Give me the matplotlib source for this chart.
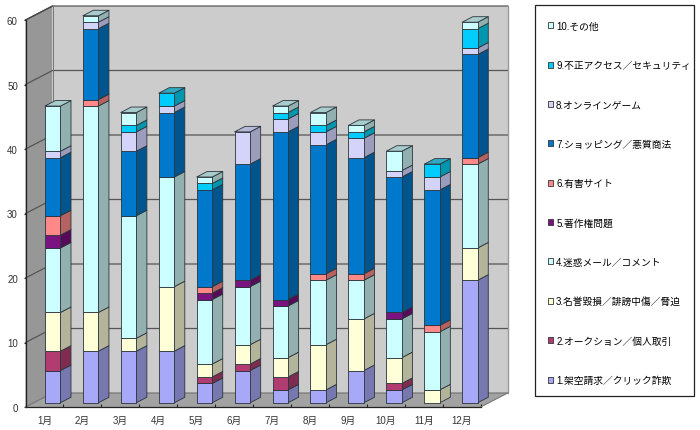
import matplotlib
matplotlib.use("Agg")
import matplotlib.pyplot as plt
from matplotlib.patches import Polygon, Patch, Rectangle

plt.rcParams['font.family'] = ['Liberation Sans', 'Noto Sans CJK JP', 'DejaVu Sans']

months = ['1月','2月','3月','4月','5月','6月','7月','8月','9月','10月','11月','12月']
series_names = ['1.架空請求／クリック詐欺','2.オークション／個人取引','3.名誉毀損／誹謗中傷／脅迫',
                '4.迷惑メール／コメント','5.著作権問題','6.有害サイト','7.ショッピング／悪質商法',
                '8.オンラインゲーム','9.不正アクセス／セキュリティ','10.その他']
s1  = [5, 8, 8, 8, 3, 5, 2, 2, 5, 2, 0, 19]
s2  = [3, 0, 0, 0, 1, 1, 2, 0, 0, 1, 0, 0]
s3  = [6, 6, 2, 10, 2, 3, 3, 7, 8, 4, 2, 5]
s4  = [10, 32, 19, 17, 10, 9, 8, 10, 6, 6, 9, 13]
s5  = [2, 0, 0, 0, 1, 1, 1, 0, 0, 1, 0, 0]
s6  = [3, 1, 0, 0, 1, 0, 0, 1, 1, 0, 1, 1]
s7  = [9, 11, 10, 10, 15, 18, 26, 20, 18, 21, 21, 16]
s8  = [1, 1, 3, 1, 0, 5, 2, 2, 3, 1, 2, 1]
s9  = [0, 0, 1, 2, 1, 0, 1, 1, 1, 0, 2, 3]
s10 = [7, 1, 2, 0, 1, 0, 1, 2, 1, 3, 0, 1]
series = [s1, s2, s3, s4, s5, s6, s7, s8, s9, s10]
front = ['#A8A8F8','#B03C72','#FFFFD8','#CCFFFF','#7A1280','#FF8888','#0078CC','#D4D4FA','#00CCFF','#CCFFFF']
side  = ['#7878B0','#7F2C50','#B4B49A','#92B0B0','#570A5A','#B46262','#00558F','#9C9CBC','#0096AE','#92B0B0']
top   = ['#A0A0D8','#A05070','#D0D0B0','#A8CCCC','#70207A','#D08080','#2070B0','#B8B8D8','#30A8C0','#A8CCCC']
yticks = [0, 10, 20, 30, 40, 50, 60]

W, H = 700, 431
fig = plt.figure(figsize=(W/100, H/100), dpi=100, facecolor='white')
ax = fig.add_axes([25.5/W, 1-408/H, 455.2/W, 387/H])
ax.set_xlim(0, 12)
ax.set_ylim(0, 60)
ax.patch.set_visible(False)

DX, DY = 0.712, 2.17      # wall depth in data units
BDX, BDY = 0.277, 0.853   # bar depth
BW = 0.41
OX, OY = (DX-BDX)/2, (DY-BDY)/2

def poly(pts, fc, ec='none', lw=0.0, z=1):
    ax.add_patch(Polygon(pts, closed=True, facecolor=fc, edgecolor=ec, linewidth=lw,
                         zorder=z, clip_on=False, joinstyle='round'))

# walls and floor
poly([(DX,DY),(12+DX,DY),(12+DX,60+DY),(DX,60+DY)], '#CCCCCC', z=1)
poly([(0,0),(DX,DY),(DX,60+DY),(0,60)], '#979797', z=1)
poly([(0,0),(12,0),(12+DX,DY),(DX,DY)], '#A2A2A2', z=1)
for v in yticks:
    col = '#555555' if v else '#777777'
    ax.plot([0,DX,12+DX],[v,v+DY,v+DY], color=col, lw=0.9, zorder=2, clip_on=False,
            solid_joinstyle='miter')
ax.plot([DX,DX],[DY,60+DY], color='#777777', lw=0.7, zorder=2, clip_on=False)
ax.plot([0,DX],[60,60+DY], color='#444444', lw=0.9, zorder=2, clip_on=False)
ax.plot([12+DX,12+DX],[DY,60+DY], color='#999999', lw=1.0, zorder=2, clip_on=False)
ax.plot([12,12+DX],[0,DY], color='#777777', lw=0.8, zorder=2, clip_on=False)

# stacked 3-D bars
edge = '#2A343A'
z = 3
for i in range(len(months)):
    x0 = i + 0.5 - BW/2 + OX
    x1 = x0 + BW
    base = OY
    last = max(k for k, s in enumerate(series) if s[i] > 0)
    for k, s in enumerate(series):
        v = s[i]
        if v == 0:
            continue
        y0, y1 = base, base + v
        poly([(x1,y0),(x1+BDX,y0+BDY),(x1+BDX,y1+BDY),(x1,y1)], side[k], edge, 0.6, z)
        poly([(x0,y0),(x1,y0),(x1,y1),(x0,y1)], front[k], edge, 0.6, z)
        if k == last:
            poly([(x0,y1),(x1,y1),(x1+BDX,y1+BDY),(x0+BDX,y1+BDY)], top[k], edge, 0.6, z)
        base = y1
        z += 1

# axes
for sp in ('top', 'right'):
    ax.spines[sp].set_visible(False)
for sp in ('left', 'bottom'):
    ax.spines[sp].set_color('#222222')
    ax.spines[sp].set_linewidth(0.9)
    ax.spines[sp].set_zorder(2.5)
ax.set_yticks(yticks)
ax.set_xticks(range(0, 13))
ax.set_xticklabels([])
ax.set_xticks([i + 0.5 for i in range(12)], minor=True)
ax.set_xticklabels(months, minor=True, fontsize=7, color='#333333')
ax.tick_params(axis='x', which='major', direction='in', length=2, width=0.8, color='#222222')
ax.tick_params(axis='x', which='minor', length=0, pad=5.5)
ax.tick_params(axis='y', direction='out', length=1.5, width=0.8, color='#222222',
               labelsize=7, labelcolor='#333333', pad=4)

# legend: frame drawn separately so it can hold the rows at their own spacing
fig.add_artist(Rectangle((534.7/W, 1-397/H), 159.6/W, 391.5/H, transform=fig.transFigure,
                         facecolor='white', edgecolor='#222222', linewidth=0.9, zorder=5))
handles = [Patch(facecolor=front[k], edgecolor='#333333', linewidth=0.6, label=series_names[k])
           for k in range(9, -1, -1)]
leg = fig.legend(handles=handles, loc='upper left',
                 bbox_to_anchor=(534.7/W, 1-8.7/H), frameon=False,
                 fontsize=7, ncol=1, borderaxespad=0, borderpad=1.34, labelspacing=3.02,
                 handlelength=0.58, handleheight=0.58, handletextpad=0.28, labelcolor='black')
leg.set_zorder(6)

fig.savefig('out.png', dpi=100, facecolor='white')
